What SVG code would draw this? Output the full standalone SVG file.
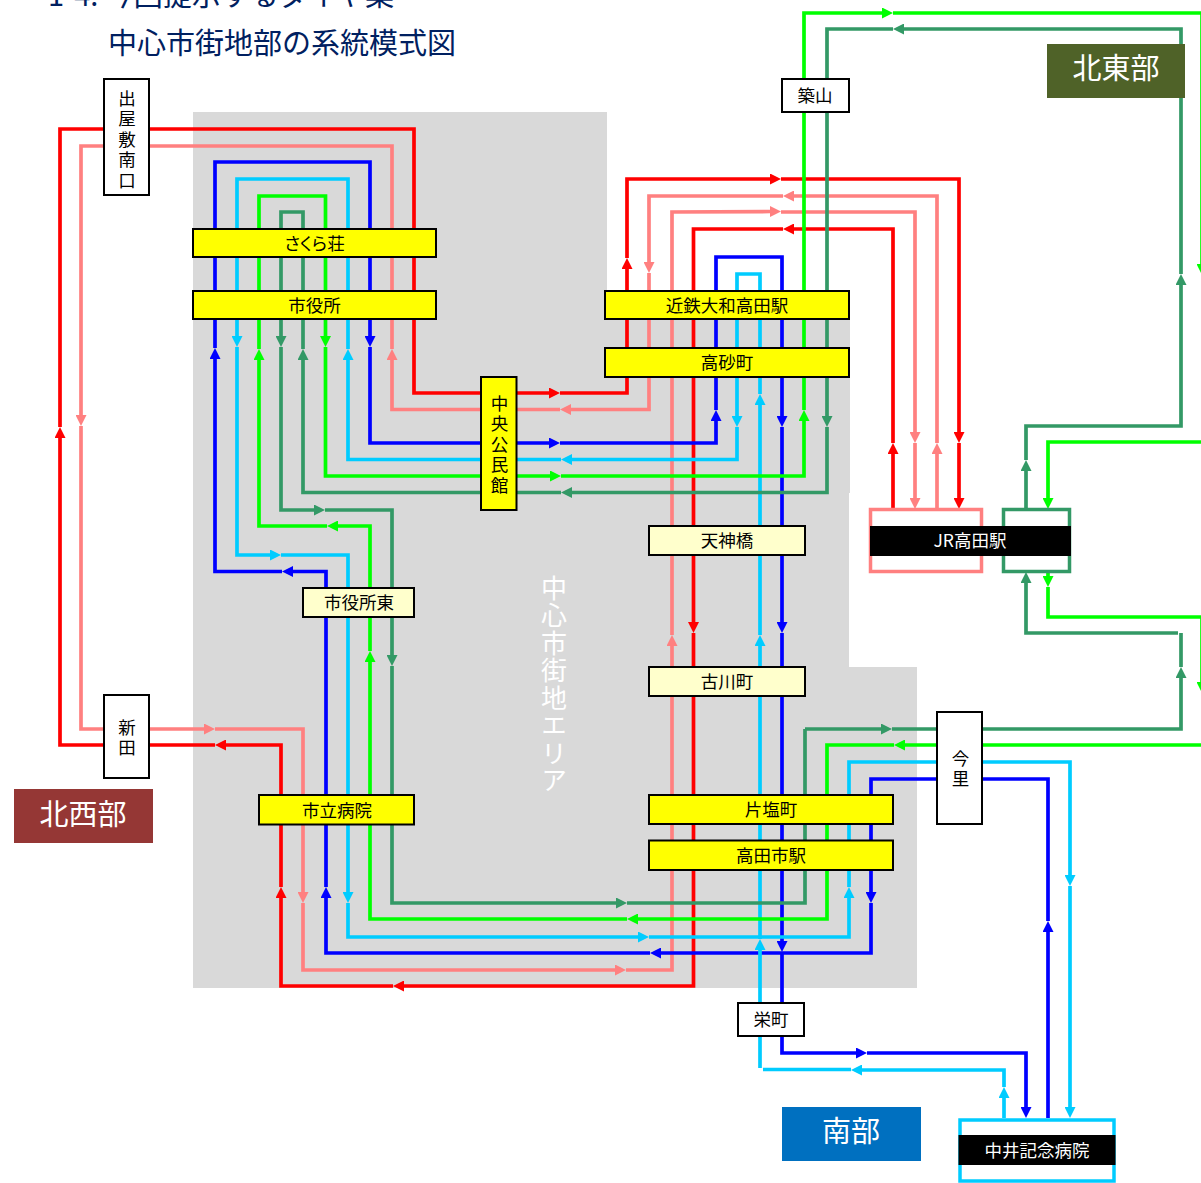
<svg xmlns="http://www.w3.org/2000/svg" width="1201" height="1183" viewBox="0 0 1201 1183">
<style>
text{font-family:"Noto Sans CJK JP","Noto Sans",sans-serif;text-anchor:middle}
.n{font-size:17.5px;fill:#000}
.v{writing-mode:vertical-rl;letter-spacing:3px}
.w{font-size:17.5px;fill:#fff}
.t{font-size:29px;fill:#002060;text-anchor:start}
.a{font-size:29px;fill:#fff}
.y{fill:#ff0;stroke:#000;stroke-width:2}
.l{fill:#ffc;stroke:#000;stroke-width:2}
.b{fill:#fff;stroke:#000;stroke-width:2}
#connectors path{fill:none;stroke-width:3.7}
.r{stroke:#f00;marker-end:url(#mr)}
.p{stroke:#ff8080;marker-end:url(#mp)}
.u{stroke:#00f;marker-end:url(#mu)}
.c{stroke:#0cf;marker-end:url(#mc)}
.g{stroke:#0f0;marker-end:url(#mg)}
.d{stroke:#396;marker-end:url(#md)}
</style>
<defs>
<marker id="mr" markerUnits="userSpaceOnUse" markerWidth="11" markerHeight="11" viewBox="0 0 11 11" refX="0" refY="5.5" orient="auto"><path d="M0 0L11 5.5L0 11z" fill="#f00"/></marker>
<marker id="mp" markerUnits="userSpaceOnUse" markerWidth="11" markerHeight="11" viewBox="0 0 11 11" refX="0" refY="5.5" orient="auto"><path d="M0 0L11 5.5L0 11z" fill="#ff8080"/></marker>
<marker id="mu" markerUnits="userSpaceOnUse" markerWidth="11" markerHeight="11" viewBox="0 0 11 11" refX="0" refY="5.5" orient="auto"><path d="M0 0L11 5.5L0 11z" fill="#00f"/></marker>
<marker id="mc" markerUnits="userSpaceOnUse" markerWidth="11" markerHeight="11" viewBox="0 0 11 11" refX="0" refY="5.5" orient="auto"><path d="M0 0L11 5.5L0 11z" fill="#0cf"/></marker>
<marker id="mg" markerUnits="userSpaceOnUse" markerWidth="11" markerHeight="11" viewBox="0 0 11 11" refX="0" refY="5.5" orient="auto"><path d="M0 0L11 5.5L0 11z" fill="#0f0"/></marker>
<marker id="md" markerUnits="userSpaceOnUse" markerWidth="11" markerHeight="11" viewBox="0 0 11 11" refX="0" refY="5.5" orient="auto"><path d="M0 0L11 5.5L0 11z" fill="#396"/></marker>
</defs>
<rect width="1201" height="1183" fill="#fff"/>
<path id="area" d="M193 112H607V320H850V493H849V667H917V988H193z" fill="#d9d9d9"/>
<text class="a" x="554" y="685" style="font-size:26px;writing-mode:vertical-rl;letter-spacing:1.5px">中心市街地エリア</text>
<text class="t" x="48" y="6">1-4. 今回提示するダイヤ案</text>
<text class="t" x="108" y="54">中心市街地部の系統模式図</text>
<g id="connectors">
<path class="r" d="M393 986H281V898"/>
<path class="r" d="M281 887V745H226"/>
<path class="r" d="M215 745H60V438"/>
<path class="r" d="M60 427V129H414V393H549"/>
<path class="r" d="M560 393H627V269"/>
<path class="r" d="M627 258V179H770"/>
<path class="r" d="M781 179H959V432"/>
<path class="r" d="M959 443V498"/>
<path class="r" d="M893 509V454"/>
<path class="r" d="M893 443V229H794"/>
<path class="r" d="M783 229H693.500V622"/>
<path class="r" d="M693.500 633V986H404"/>
<path class="p" d="M937 509V454"/>
<path class="p" d="M937 443V196H794"/>
<path class="p" d="M783 196H649V262"/>
<path class="p" d="M649 273V409.500H571"/>
<path class="p" d="M560 409.500H392V360"/>
<path class="p" d="M392 349V146H81V415"/>
<path class="p" d="M81 426V729H204"/>
<path class="p" d="M215 729H303V892"/>
<path class="p" d="M303 903V970H615"/>
<path class="p" d="M626 970H672V646"/>
<path class="p" d="M672 635V212L770 211.500"/>
<path class="p" d="M781 212H915V432"/>
<path class="p" d="M915 443V498"/>
<path class="u" d="M215 348V162H370V336"/>
<path class="u" d="M370 347V443H549"/>
<path class="u" d="M560 443H716V421"/>
<path class="u" d="M716 410V257H782V416"/>
<path class="u" d="M782 427V622"/>
<path class="u" d="M782 633V941"/>
<path class="u" d="M782 952V1053H856"/>
<path class="u" d="M867 1053H1026V1107"/>
<path class="u" d="M1048 1118V932"/>
<path class="u" d="M1048 921V779H871V892"/>
<path class="u" d="M871 903V953H661"/>
<path class="u" d="M650 953H326V898"/>
<path class="u" d="M326 887V571.500H293"/>
<path class="u" d="M282 571.500H215V359"/>
<path class="c" d="M1004 1118V1098"/>
<path class="c" d="M1004 1087V1070H862"/>
<path class="c" d="M851 1069.500H763" style="marker-end:none"/>
<path class="c" d="M760 1068V950"/>
<path class="c" d="M760 939V646"/>
<path class="c" d="M760 635V405"/>
<path class="c" d="M760 394V274H737V416"/>
<path class="c" d="M737 427V459.500H572"/>
<path class="c" d="M561 459.500H348V360"/>
<path class="c" d="M348 349V179H237V336"/>
<path class="c" d="M237 347V555H270"/>
<path class="c" d="M281 555H348V892"/>
<path class="c" d="M348 903V937H638"/>
<path class="c" d="M649 937H849V898"/>
<path class="c" d="M849 887V762H1070V875"/>
<path class="c" d="M1070 886V1107"/>
<path class="g" d="M1204 745H905"/>
<path class="g" d="M894 745H827V919H638"/>
<path class="g" d="M627 919H370V662"/>
<path class="g" d="M370 651V526H338"/>
<path class="g" d="M327 526H259V360"/>
<path class="g" d="M259 349V196H325.500V336"/>
<path class="g" d="M325.500 347V476H550"/>
<path class="g" d="M561 476H804V421"/>
<path class="g" d="M804 410V13H882"/>
<path class="g" d="M893 13H1202V264"/>
<path class="g" d="M1204 275V442H1048V498"/>
<path class="g" d="M1048 572V576"/>
<path class="g" d="M1048 587V617H1202V682"/>
<path class="g" d="M1204 693V745" style="marker-end:none"/>
<path class="d" d="M805 729H881"/>
<path class="d" d="M892 729H1181V678"/>
<path class="d" d="M1181 667V633" style="marker-end:none"/>
<path class="d" d="M1178 633H1026V583"/>
<path class="d" d="M1026 509V471"/>
<path class="d" d="M1026 460V426H1181V285"/>
<path class="d" d="M1181 274V29H904"/>
<path class="d" d="M893 29H827V416"/>
<path class="d" d="M827 427V492.500H572"/>
<path class="d" d="M561 492.500H303V360"/>
<path class="d" d="M303 349V212H281V336"/>
<path class="d" d="M281 347V510H314"/>
<path class="d" d="M325 510H392V655"/>
<path class="d" d="M392 666V903H616"/>
<path class="d" d="M627 903H805V729" style="marker-end:none"/>
</g>
<g id="demashiki"><rect class="b" x="104" y="79" width="45" height="116"/><text class="n v" x="127" y="140.500">出屋敷南口</text></g>
<g id="shinden"><rect class="b" x="104" y="695" width="45" height="83"/><text class="n v" x="127" y="739">新田</text></g>
<g id="sakurasou"><rect class="y" x="193" y="229" width="243" height="28"/><text class="n" x="314.500" y="249.500" style="font-feature-settings:'palt'">さくら荘</text></g>
<g id="shiyakusho"><rect class="y" x="193" y="291" width="243" height="28"/><text class="n" x="314.500" y="311.500">市役所</text></g>
<g id="chuo"><rect class="y" x="481" y="377" width="35.500" height="133"/><text class="n v" x="499.500" y="445.500">中央公民館</text></g>
<g id="kintetsu"><rect class="y" x="605" y="291" width="244" height="28"/><text class="n" x="727" y="312">近鉄大和高田駅</text></g>
<g id="takasago"><rect class="y" x="605" y="348" width="244" height="29"/><text class="n" x="727" y="369">高砂町</text></g>
<g id="tenjinbashi"><rect class="l" x="649" y="526" width="156" height="29"/><text class="n" x="727" y="547">天神橋</text></g>
<g id="furukawa"><rect class="l" x="649" y="667" width="156" height="29"/><text class="n" x="727" y="688">古川町</text></g>
<g id="katashio"><rect class="y" x="649" y="795" width="244" height="29"/><text class="n" x="771" y="816">片塩町</text></g>
<g id="takadashi"><rect class="y" x="649" y="840.500" width="244" height="29.500"/><text class="n" x="771" y="862">高田市駅</text></g>
<g id="imazato"><rect class="b" x="937" y="712" width="45" height="112"/><text class="n v" x="960.500" y="770">今里</text></g>
<g id="shiyakushohigashi"><rect class="l" x="303" y="588" width="111" height="29"/><text class="n" x="359" y="609">市役所東</text></g>
<g id="shiritsubyoin"><rect class="y" x="259" y="795" width="155" height="29.500"/><text class="n" x="337" y="817">市立病院</text></g>
<g id="tsukiyama"><rect class="b" x="782" y="79" width="67" height="33"/><text class="n" x="815" y="102">築山</text></g>
<g id="sakaemachi"><rect class="b" x="738" y="1003" width="66" height="33"/><text class="n" x="771" y="1026">栄町</text></g>
<g id="jr"><rect x="870.500" y="509.500" width="111" height="62" fill="#fff" stroke="#ff8080" stroke-width="3.500"/><rect x="1003.500" y="509.500" width="66" height="62" fill="#fff" stroke="#396" stroke-width="3.500"/><rect x="870" y="526" width="201" height="30" fill="#000"/><text class="w" x="970" y="547">JR高田駅</text></g>
<g id="nakai"><rect x="960" y="1120" width="154" height="61" fill="#fff" stroke="#0cf" stroke-width="3.500"/><rect x="958.500" y="1135" width="157" height="30" fill="#000"/><text class="w" x="1037" y="1157">中井記念病院</text></g>
<g id="hokusei"><rect x="14" y="789" width="139" height="54" fill="#953735"/><text class="a" x="83" y="825">北西部</text></g>
<g id="hokuto"><rect x="1047" y="44" width="138" height="54" fill="#4f6228"/><text class="a" x="1116" y="79">北東部</text></g>
<g id="nanbu"><rect x="782" y="1107" width="139" height="54" fill="#0070c0"/><text class="a" x="851" y="1142">南部</text></g>
</svg>
